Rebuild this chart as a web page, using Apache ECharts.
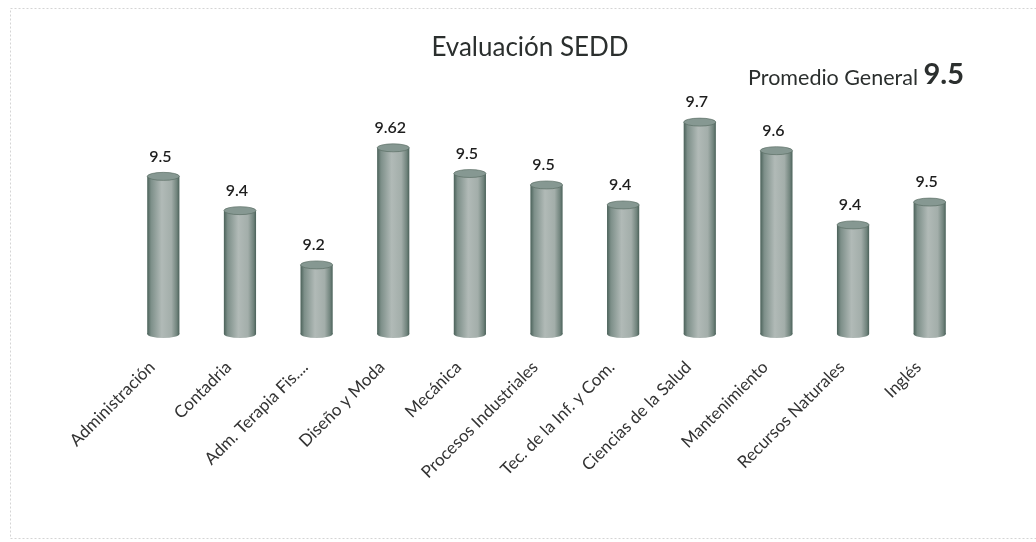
<!DOCTYPE html>
<html>
<head>
<meta charset="utf-8">
<script src="https://cdn.jsdelivr.net/npm/echarts@6/dist/echarts.min.js"></script>
<style>html,body{margin:0;padding:0;background:#fff}#c{width:1036px;height:542px}</style>
</head>
<body>
<div id="c"></div>
<script>
const categories = ['Administración','Contadria','Adm. Terapia Fis....','Diseño y Moda','Mecánica','Procesos Industriales','Tec. de la Inf. y Com.','Ciencias de la Salud','Mantenimiento','Recursos Naturales','Inglés'];
const values = [9.51, 9.39, 9.20, 9.61, 9.52, 9.48, 9.41, 9.70, 9.60, 9.34, 9.42];
const valueLabels = ['9.5','9.4','9.2','9.62','9.5','9.5','9.4','9.7','9.6','9.4','9.5'];
const titleText = 'Evaluación SEDD';
const averageLabel = 'Promedio General';
const averageValue = '9.5';

const FONT = 'Lato, "Noto Sans", sans-serif';
const Y_MIN = 8.958, Y_MAX = 9.858;
const chart = echarts.init(document.getElementById('c'));

function renderCylinder(params, api) {
  const idx = api.value(0);
  const top = api.coord([idx, api.value(1)]);
  const base = api.coord([idx, Y_MIN]);
  const w = api.size([1, 0])[0] * 0.42;
  const r = w / 2;
  const ry = 4;
  const cx = top[0];
  const body = new echarts.graphic.LinearGradient(0, 0, 1, 0, [
    {offset: 0, color: '#4a6159'},
    {offset: 0.12, color: '#7d8f89'},
    {offset: 0.45, color: '#b1bab7'},
    {offset: 0.75, color: '#a3aeaa'},
    {offset: 0.92, color: '#71847d'},
    {offset: 1, color: '#4a6159'}
  ]);
  return {
    type: 'group',
    children: [
      {type: 'circle', shape: {cx: 0, cy: 0, r: r}, x: cx, y: base[1], scaleY: ry / r,
        style: {fill: body}},
      {type: 'rect', shape: {x: cx - r, y: top[1], width: w, height: base[1] - top[1]},
        style: {fill: body}},
      {type: 'circle', shape: {cx: 0, cy: 0, r: r}, x: cx, y: top[1], scaleY: ry / r,
        style: {fill: '#869892', stroke: '#55695f', lineWidth: 1}},
      {type: 'text', x: cx - 3, y: top[1] - ry - 8,
        style: {text: valueLabels[params.dataIndex], fill: '#1e1e1e', font: '600 16px ' + FONT,
          align: 'center', verticalAlign: 'bottom'}}
    ]
  };
}

chart.setOption({
  backgroundColor: '#ffffff',
  animation: false,
  title: {
    text: titleText, left: 525, top: 30, textAlign: 'center',
    textStyle: {fontFamily: FONT, fontSize: 26, fontWeight: 'normal', color: '#2b2f2e'}
  },
  graphic: [
    {type: 'rect', shape: {x: 10.5, y: 8.5, width: 1030, height: 530},
      style: {fill: 'none', stroke: '#d4d4d4', lineWidth: 1, lineDash: [2, 2]}, silent: true},
    {type: 'text', right: 72, top: 60,
      style: {rich: {a: {font: '21.5px ' + FONT, fill: '#2b2f2e', verticalAlign: 'bottom'},
                     b: {font: 'bold 29px ' + FONT, fill: '#2b2f2e', verticalAlign: 'bottom'}},
              text: '{a|' + averageLabel + ' }{b|' + averageValue + '}'}}
  ],
  grid: {left: 125, right: 68, top: 77, bottom: 208},
  xAxis: {
    type: 'category', data: categories,
    axisLine: {show: false}, axisTick: {show: false},
    axisLabel: {rotate: 45, margin: 19, interval: 0, color: '#333', fontFamily: FONT, fontSize: 17,
      padding: [0, 16, 0, 0]}
  },
  yAxis: {type: 'value', min: Y_MIN, max: Y_MAX, show: false, splitLine: {show: false}},
  series: [{
    type: 'custom',
    renderItem: renderCylinder,
    encode: {x: 0, y: 1},
    data: values.map((v, i) => [i, v])
  }]
});
</script>
</body>
</html>
